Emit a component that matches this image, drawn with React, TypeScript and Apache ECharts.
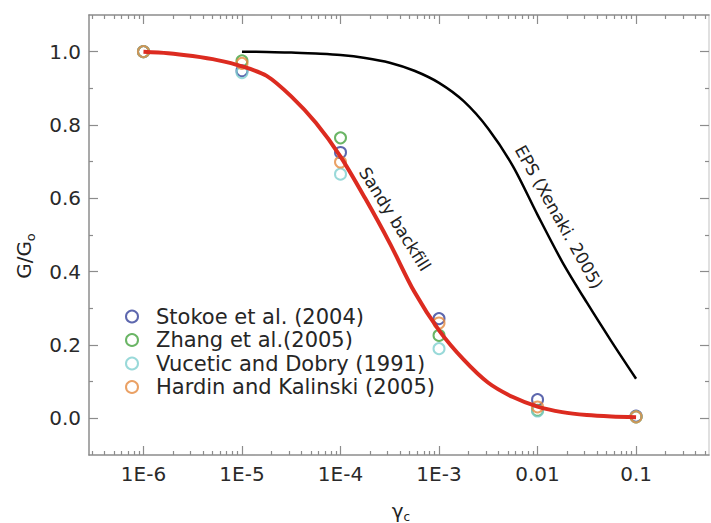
import React, { useEffect, useRef } from 'react';
import * as echarts from 'echarts';

// ---- data (strain values γc and G/Go) ----
const xTickValues = [1e-6, 1e-5, 1e-4, 1e-3, 0.01, 0.1];
const xTickLabels = ['1E-6', '1E-5', '1E-4', '1E-3', '0.01', '0.1'];
const yTickValues = [0, 0.2, 0.4, 0.6, 0.8, 1.0];
const yMinorValues = [0.1, 0.3, 0.5, 0.7, 0.9];
const xMinStrain = 2.8e-7;
const xMaxStrain = 0.55;

const testStrain = [1e-6, 1e-5, 1e-4, 1e-3, 0.01, 0.1];
const stokoe = [1.0, 0.948, 0.725, 0.272, 0.051, 0.006];
const zhang = [1.0, 0.975, 0.765, 0.226, 0.022, 0.004];
const vucetic = [1.0, 0.943, 0.666, 0.19, 0.02, 0.004];
const hardin = [1.0, 0.968, 0.699, 0.26, 0.031, 0.004];

const sandyStrain = [
  1e-6, 1.78e-6, 3.16e-6, 5.62e-6, 1e-5, 1.78e-5, 3.16e-5, 5.62e-5, 1e-4, 1.78e-4, 3.16e-4,
  5.62e-4, 1e-3, 1.78e-3, 3.16e-3, 5.62e-3, 1e-2, 1.78e-2, 3.16e-2, 5.62e-2, 1e-1,
];
const sandyG = [
  1.0, 0.996, 0.988, 0.977, 0.96, 0.934, 0.878, 0.806, 0.714, 0.6, 0.478,
  0.345, 0.24, 0.16, 0.097, 0.058, 0.032, 0.017, 0.009, 0.005, 0.003,
];

const epsStrain = [
  1e-5, 1.78e-5, 3.16e-5, 5.62e-5, 1e-4, 1.78e-4, 3.16e-4, 5.62e-4, 1e-3,
  1.78e-3, 3.16e-3, 5.62e-3, 1e-2, 1.78e-2, 3.16e-2, 5.62e-2, 1e-1,
];
const epsG = [
  1.0, 0.999, 0.998, 0.995, 0.991, 0.983, 0.97, 0.948, 0.915,
  0.865, 0.79, 0.688, 0.555, 0.427, 0.316, 0.21, 0.108,
];

const seriesNames = ['Stokoe et al. (2004)', 'Zhang et al.(2005)', 'Vucetic and Dobry (1991)', 'Hardin and Kalinski (2005)'];
const seriesColors = ['#34419a', '#45a33f', '#80cfd0', '#e58a3e'];
const seriesValues = [stokoe, zhang, vucetic, hardin];

const FONT = 'DejaVu Sans';
const AXIS_COLOR = '#8c8c8c';

const lg = (v: number) => Math.log10(v);

function minorStrains(): number[] {
  const out: number[] = [];
  for (let d = -7; d <= 0; d++) {
    for (let k = 2; k <= 9; k++) {
      const v = k * Math.pow(10, d);
      if (v > xMinStrain && v < xMaxStrain) out.push(lg(v));
    }
  }
  return out;
}

export default function App() {
  const ref = useRef<HTMLDivElement>(null);

  useEffect(() => {
    if (!ref.current) return;
    const chart = echarts.init(ref.current, undefined, { renderer: 'svg' });
    const xMin = lg(xMinStrain);
    const xMax = lg(xMaxStrain);
    const majorX = xTickValues.map(lg);
    const minorX = minorStrains();

    const xAxis = (position: string, ticks: number[], len: number, showLine: boolean, showLabel: boolean, lineColor = AXIS_COLOR) => ({
      type: 'value',
      position,
      min: xMin,
      max: xMax,
      splitLine: { show: false },
      axisLine: { show: showLine, onZero: false, lineStyle: { color: lineColor, width: 1.5 } },
      axisTick: { show: true, inside: true, length: len, customValues: ticks, lineStyle: { color: AXIS_COLOR, width: 1.2 } },
      axisLabel: showLabel
        ? {
            show: true,
            customValues: majorX,
            margin: 9,
            fontFamily: FONT,
            fontSize: 20,
            color: '#2a2a2a',
            formatter: (v: number) => xTickLabels[Math.round(v - majorX[0])] ?? '',
          }
        : { show: false },
    });

    const yAxis = (position: string, ticks: number[], len: number, showLine: boolean, showLabel: boolean, lineColor = AXIS_COLOR) => ({
      type: 'value',
      position,
      min: -0.1,
      max: 1.1,
      splitLine: { show: false },
      axisLine: { show: showLine, onZero: false, lineStyle: { color: lineColor, width: 1.5 } },
      axisTick: { show: true, inside: true, length: len, customValues: ticks, lineStyle: { color: AXIS_COLOR, width: 1.2 } },
      axisLabel: showLabel
        ? {
            show: true,
            customValues: yTickValues,
            margin: 8,
            fontFamily: FONT,
            fontSize: 20,
            color: '#2a2a2a',
            formatter: (v: number) => v.toFixed(1),
          }
        : { show: false },
    });

    const scatter = seriesNames.map((name, i) => ({
      type: 'scatter',
      name,
      xAxisIndex: 0,
      yAxisIndex: 0,
      symbol: 'circle',
      symbolSize: 11,
      itemStyle: { color: 'rgba(255,255,255,0)', borderColor: seriesColors[i], borderWidth: 2 },
      data: testStrain.map((s, j) => [lg(s), seriesValues[i][j]]),
      z: 3,
    }));

    chart.setOption({
      animation: false,
      backgroundColor: '#ffffff',
      grid: { left: 89, right: 2, top: 15, bottom: 68 },
      xAxis: [
        xAxis('bottom', majorX, 9, true, true),
        xAxis('bottom', minorX, 4, false, false),
        xAxis('top', majorX, 9, true, false),
        xAxis('top', minorX, 4, false, false),
      ],
      yAxis: [
        yAxis('left', yTickValues, 9, true, true),
        yAxis('left', yMinorValues, 4, false, false),
        yAxis('right', yTickValues, 9, true, false, '#d6d6d6'),
        yAxis('right', yMinorValues, 4, false, false),
      ],
      legend: {
        orient: 'vertical',
        left: 120,
        top: 301,
        itemWidth: 14,
        itemHeight: 12,
        itemGap: 2.5,
        data: seriesNames,
        formatter: (n: string) => `{t|${n}}`,
        textStyle: {
          fontFamily: FONT,
          fontSize: 21,
          color: '#262626',
          rich: { t: { fontFamily: FONT, fontSize: 21, lineHeight: 21, color: '#262626', padding: [0, 0, 0, 12] } },
        },
      },
      series: [
        ...scatter,
        {
          type: 'line',
          name: 'EPS (Xenaki. 2005)',
          xAxisIndex: 0,
          yAxisIndex: 0,
          smooth: 0.3,
          showSymbol: false,
          lineStyle: { color: '#000000', width: 2.5 },
          data: epsStrain.map((s, j) => [lg(s), epsG[j]]),
          z: 4,
        },
        {
          type: 'line',
          name: 'Sandy backfill',
          xAxisIndex: 0,
          yAxisIndex: 0,
          smooth: 0.3,
          showSymbol: false,
          lineStyle: { color: '#dc2b20', width: 4 },
          data: sandyStrain.map((s, j) => [lg(s), sandyG[j]]),
          z: 4,
        },
      ],
      graphic: [
        {
          type: 'text',
          x: 24,
          y: 256,
          rotation: Math.PI / 2,
          style: {
            text: '{a|G/G}{b|o}',
            align: 'center',
            verticalAlign: 'middle',
            rich: {
              a: { fontFamily: FONT, fontSize: 20, fill: '#222' },
              b: { fontFamily: FONT, fontSize: 13, fill: '#222', padding: [12, 0, 0, 0] },
            },
          },
        },
        {
          type: 'text',
          x: 401,
          y: 511,
          style: {
            text: '{a|γ}{b|c}',
            align: 'center',
            verticalAlign: 'middle',
            rich: {
              a: { fontFamily: FONT, fontSize: 20, fill: '#222' },
              b: { fontFamily: FONT, fontSize: 12, fill: '#222', padding: [12, 0, 0, 0] },
            },
          },
        },
        {
          type: 'text',
          x: 395,
          y: 219,
          rotation: -1.01,
          style: { text: 'Sandy backfill', fontFamily: FONT, fontSize: 17, fill: '#222', align: 'center', verticalAlign: 'middle' },
        },
        {
          type: 'text',
          x: 559,
          y: 217,
          rotation: -1.06,
          style: { text: 'EPS (Xenaki. 2005)', fontFamily: FONT, fontSize: 17, fill: '#222', align: 'center', verticalAlign: 'middle' },
        },
      ],
    });
    return () => chart.dispose();
  }, []);

  return <div ref={ref} style={{ position: 'absolute', left: 0, top: 0, width: 711, height: 523 }} />;
}
